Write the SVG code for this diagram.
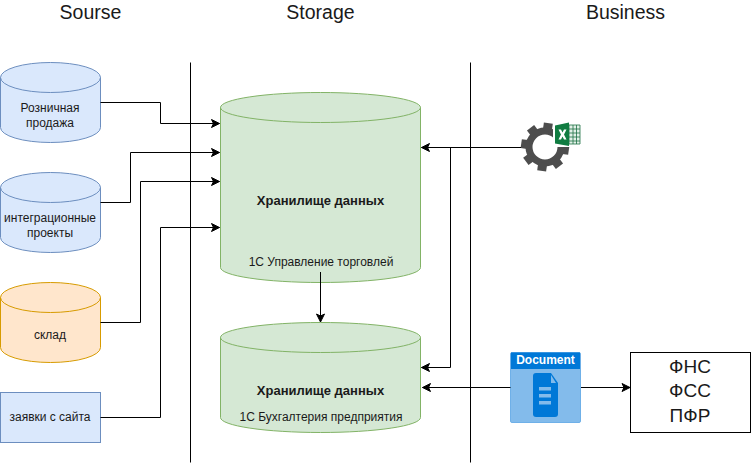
<svg xmlns="http://www.w3.org/2000/svg" width="751" height="464" viewBox="0 0 751 464">
<style>
text{font-family:"Liberation Sans",Arial,sans-serif;text-anchor:middle;fill:#1a1a1a}
.s{font-size:12px}.h{font-size:19.500px}.b{font-size:13px;font-weight:bold}.f{font-size:19px}
.blue{fill:#dae8fc;stroke:#6c8ebf}.or{fill:#ffe6cc;stroke:#d79b00}.gr{fill:#d5e8d4;stroke:#82b366}
.c{fill:none;stroke:#000;stroke-width:1}
.t{fill:#4d4d4d}
</style>
<defs>
<marker id="a" markerUnits="userSpaceOnUse" markerWidth="10" markerHeight="10" refX="9" refY="5" orient="auto-start-reverse"><path d="M1 1L9 5L1 9L3 5Z" fill="#000" stroke="#000" stroke-width="1"/></marker>
<rect id="tooth" class="t" x="-4.500" y="-24" width="9" height="8"/>
</defs>
<rect width="751" height="464" fill="#fff"/>
<g id="headers">
<text class="h" x="90.500" y="19">Sourse</text>
<text class="h" x="320.500" y="19">Storage</text>
<text class="h" x="625.500" y="19">Business</text>
</g>
<g id="dividers">
<path class="c" d="M190.500 62.500V462.500M470.500 62.500V462.500"/>
</g>
<g id="retail">
<path class="blue" d="M0.500 77.500A50 15 0 0 1 100.500 77.500V127.500A50 15 0 0 1 0.500 127.500Z"/>
<path class="blue" style="fill:none" d="M0.500 77.500A50 15 0 0 0 100.500 77.500"/>
<text class="s" x="50" y="112">Розничная</text><text class="s" x="50" y="127">продажа</text>
</g>
<g id="integration">
<path class="blue" d="M0.500 187.500A50 15 0 0 1 100.500 187.500V237.500A50 15 0 0 1 0.500 237.500Z"/>
<path class="blue" style="fill:none" d="M0.500 187.500A50 15 0 0 0 100.500 187.500"/>
<text class="s" x="50" y="222">интеграционные</text><text class="s" x="50" y="237">проекты</text>
</g>
<g id="warehouse">
<path class="or" d="M0.500 297.500A50 15 0 0 1 100.500 297.500V347.500A50 15 0 0 1 0.500 347.500Z"/>
<path class="or" style="fill:none" d="M0.500 297.500A50 15 0 0 0 100.500 297.500"/>
<text class="s" x="50" y="339">склад</text>
</g>
<g id="site-orders">
<rect class="blue" x="0.500" y="392.500" width="100" height="50"/>
<text class="s" x="50" y="421">заявки с сайта</text>
</g>
<g id="storage-trade">
<path class="gr" d="M220.500 107.500A100 15 0 0 1 420.500 107.500V267.500A100 15 0 0 1 220.500 267.500Z"/>
<path class="gr" style="fill:none" d="M220.500 107.500A100 15 0 0 0 420.500 107.500"/>
<text class="b" x="320.500" y="205">Хранилище данных</text>
<text class="s" x="321" y="266">1С Управление торговлей</text>
</g>
<g id="storage-accounting">
<path class="gr" d="M220.500 337.500A100 15 0 0 1 420.500 337.500V417.500A100 15 0 0 1 220.500 417.500Z"/>
<path class="gr" style="fill:none" d="M220.500 337.500A100 15 0 0 0 420.500 337.500"/>
<text class="b" x="320.500" y="395">Хранилище данных</text>
<text class="s" x="321" y="421">1С Бухгалтерия предприятия</text>
</g>
<g id="excel-gear">
<g transform="translate(545 147)">
<circle r="16" fill="none" stroke="#4d4d4d" stroke-width="7"/>
<use href="#tooth" transform="rotate(8)"/>
<use href="#tooth" transform="rotate(53)"/>
<use href="#tooth" transform="rotate(98)"/>
<use href="#tooth" transform="rotate(143)"/>
<use href="#tooth" transform="rotate(188)"/>
<use href="#tooth" transform="rotate(233)"/>
<use href="#tooth" transform="rotate(278)"/>
<use href="#tooth" transform="rotate(323)"/>
</g>
<rect x="553" y="122" width="28" height="25" fill="#fff"/>
<path d="M569 125H580V144H569Z" fill="#e3f1e8" stroke="#1e7145" stroke-width="0.8"/>
<path d="M573 125V144M576.500 125V144M569 129H580M569 133H580M569 137H580M569 141H580" stroke="#1e7145" stroke-width="0.8"/>
<path d="M555 125.500L569 122.500V146L555 143.500Z" fill="#107c41"/>
<path d="M558.500 129.500H561L562.500 132.500L564 129.500H566.500L564 134.500L566.500 139.500H564L562.500 136.500L561 139.500H558.500L561 134.500Z" fill="#fff"/>
</g>
<g id="document">
<rect x="510.500" y="352.500" width="70" height="70" rx="1.500" fill="#83bbeb" stroke="#6fb0e8"/>
<rect x="511" y="352.500" width="69" height="16.500" fill="#0078d7"/>
<text x="545.500" y="364" font-size="12" font-weight="bold" style="fill:#fff">Document</text>
<path d="M536 373H551L558 383V414Q558 417 555 417H536Q533 417 533 414V376Q533 373 536 373Z" fill="#0078d7"/>
<path d="M551 375L556 383H551Z" fill="#83bbeb"/>
<path d="M539 388.700H551M539 395.700H551M539 402.700H551" stroke="#83bbeb" stroke-width="3.500"/>
</g>
<g id="authorities">
<rect x="630.500" y="352.500" width="120" height="80" fill="#fff" stroke="#000"/>
<text class="f" x="690" y="373">ФНС</text>
<text class="f" x="690" y="397">ФСС</text>
<text class="f" x="690" y="422">ПФР</text>
</g>
<g id="connectors">
<path class="c" marker-end="url(#a)" d="M100.500 102.500H160.500V123.500H219.500"/>
<path class="c" marker-end="url(#a)" d="M100.500 202.500H130.500V152.500H219.500"/>
<path class="c" marker-end="url(#a)" d="M100.500 322.500H140.500V181.500H219.500"/>
<path class="c" marker-end="url(#a)" d="M100.500 417.500H160.500V227.500H219.500"/>
<path class="c" marker-end="url(#a)" d="M521 147.500H421.500"/>
<path class="c" marker-end="url(#a)" d="M450.500 147.500V367.500H421.500"/>
<path class="c" marker-end="url(#a)" d="M320.500 272V322"/>
<path class="c" marker-start="url(#a)" d="M422.500 387.500H510.500"/>
<path class="c" marker-end="url(#a)" d="M581 387.500H630"/>
</g>
</svg>
